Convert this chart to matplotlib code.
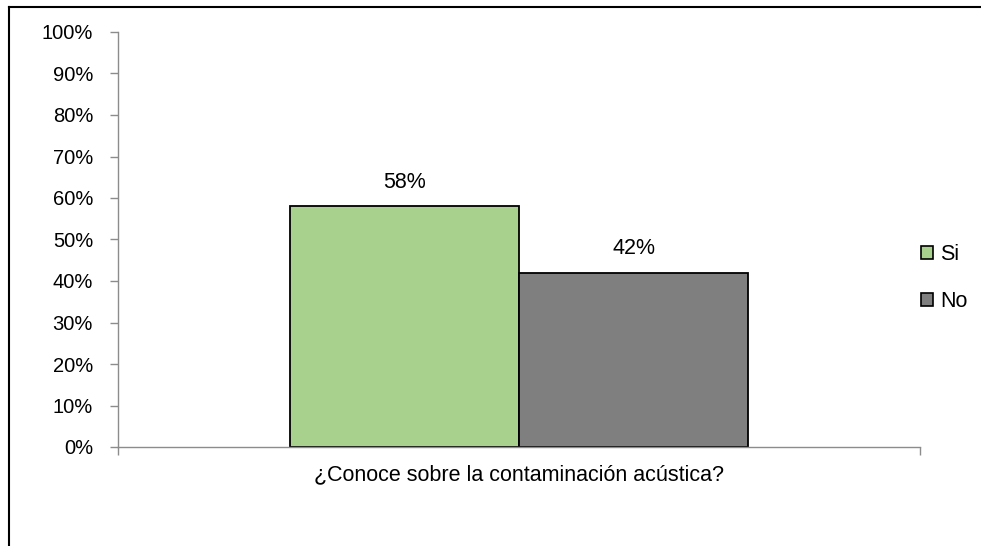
import matplotlib
matplotlib.use("Agg")
from matplotlib import pyplot as plt
from matplotlib.lines import Line2D
from matplotlib.patches import Patch

plt.rcParams['font.family'] = ['Liberation Sans', 'DejaVu Sans']

# datos de la encuesta
categoria = "¿Conoce sobre la contaminación acústica?"
respuestas = ["Si", "No"]
porcentajes = [58, 42]
colores = ["#A9D18E", "#7F7F7F"]

fig = plt.figure(figsize=(9.81, 5.46), dpi=100)
ax = fig.add_axes([118 / 981, 1 - 447 / 546, 802 / 981, 415 / 546])

ancho = 0.286
posiciones = [-ancho / 2, ancho / 2]
for pos, val, col, nombre in zip(posiciones, porcentajes, colores, respuestas):
    ax.bar(pos, val, width=ancho, color=col, edgecolor="black", linewidth=1.3, label=nombre)
    ax.text(pos, val + 3.3, "{}%".format(val), ha="center", va="bottom", fontsize=15.5)

ax.set_xlim(-0.5, 0.5)
ax.set_ylim(0, 100)
ax.set_yticks(range(0, 101, 10))
ax.set_yticklabels(["{}%".format(i) for i in range(0, 101, 10)], fontsize=14.5)
ax.set_xticks([-0.5, 0.5])
ax.set_xticklabels(["", ""])
ax.set_xlabel(categoria, fontsize=15.5, labelpad=3)

for lado in ["top", "right"]:
    ax.spines[lado].set_visible(False)
for lado in ["left", "bottom"]:
    ax.spines[lado].set_color("#8C8C8C")
    ax.spines[lado].set_linewidth(1.0)
ax.tick_params(axis="both", colors="#8C8C8C", length=6, width=1.0, labelcolor="black")
ax.tick_params(axis="y", pad=12)

# leyenda a la derecha
handles = [Patch(facecolor=c, edgecolor="black", linewidth=1.2) for c in colores]
fig.legend(handles, respuestas, loc="center left", bbox_to_anchor=(902 / 981, 1 - 278 / 546),
           frameon=False, fontsize=15.5, handlelength=0.56, handleheight=0.56,
           handletextpad=0.3, labelspacing=1.18)

# borde del área del gráfico
fig.add_artist(Line2D([9 / 981, 9 / 981], [0, 1 - 7 / 546], color="black", linewidth=1.5))
fig.add_artist(Line2D([9 / 981, 1], [1 - 7 / 546, 1 - 7 / 546], color="black", linewidth=1.5))

plt.savefig("out.png", dpi=100)
